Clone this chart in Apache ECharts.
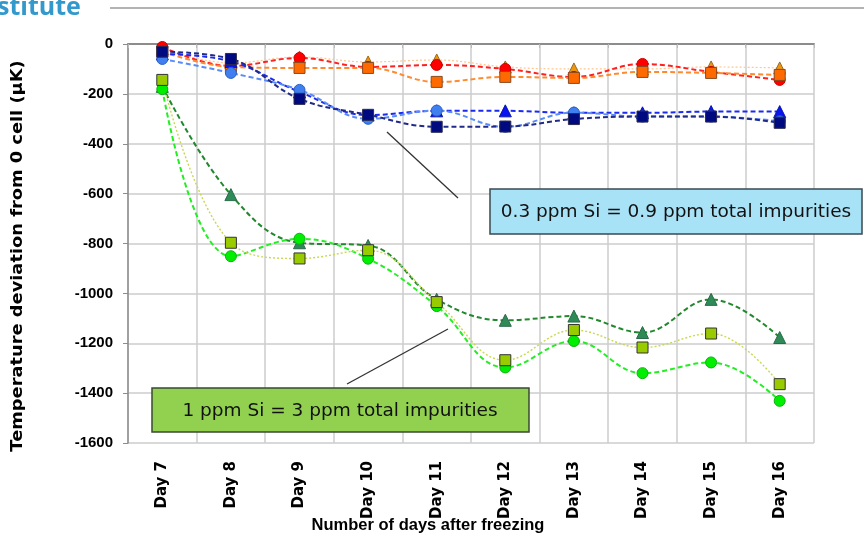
<!DOCTYPE html>
<html>
<head>
<meta charset="utf-8">
<script src="https://cdn.jsdelivr.net/npm/echarts@6/dist/echarts.min.js"></script>
<style>
  html, body { margin: 0; padding: 0; background: #ffffff; }
  #chart { width: 864px; height: 538px; }
</style>
</head>
<body>
<div id="chart"></div>
<script>
// Days after freezing
const days = ['Day 7', 'Day 8', 'Day 9', 'Day 10', 'Day 11', 'Day 12', 'Day 13', 'Day 14', 'Day 15', 'Day 16'];
const yTicks = { min: -1600, max: 0, step: 200 };

// 0.3 ppm Si cells (µK)
const redCircle      = [-12, -88, -56, -92, -84, -100, -132, -80, -112, -144];
const orangeTriangle = [-20, -76, -52, -72, -64, -92, -100, -100, -92, -96];
const orangeSquare   = [-30, -92, -96, -96, -152, -132, -136, -112, -116, -124];
const blueTriangle   = [-40, -70, -192, -285, -268, -268, -276, -276, -271, -271];
const blueCircle     = [-60, -116, -184, -300, -267, -332, -275, -291, -291, -310];
const navySquare     = [-31, -60, -220, -284, -332, -331, -301, -291, -291, -316];

// 1 ppm Si cells (µK)
const greenTriangle  = [-170, -604, -797, -808, -1024, -1108, -1091, -1157, -1024, -1177];
const greenCircle    = [-181, -851, -781, -861, -1051, -1297, -1191, -1320, -1277, -1431];
const oliveSquare    = [-144, -797, -860, -827, -1035, -1268, -1147, -1217, -1161, -1364];

// Callout texts
const noteLow  = '0.3 ppm Si = 0.9 ppm total impurities';
const noteHigh = '1 ppm Si = 3 ppm total impurities';

function line(name, data, opt) {
  return {
    name: name,
    type: 'line',
    data: data,
    smooth: 0.4,
    symbol: opt.symbol,
    symbolSize: opt.size || 11,
    itemStyle: { color: opt.fill, borderColor: opt.border, borderWidth: 1 },
    lineStyle: { color: opt.line, width: opt.width || 2, type: opt.dash || [5, 3] },
    z: opt.z || 2
  };
}

const chart = echarts.init(document.getElementById('chart'), null, { renderer: 'canvas' });

const overlayZ = 100;

chart.setOption({
  animation: false,
  backgroundColor: '#ffffff',
  grid: { left: 128, top: 44, right: 50, bottom: 95 },
  xAxis: [
    {
      type: 'category',
      data: days,
      position: 'bottom',
      axisLine: { show: false },
      axisTick: { show: true, length: 4, lineStyle: { color: '#bbbbbb' } },
      splitLine: { show: true, interval: 0, lineStyle: { color: '#cccccc', width: 1.5 } },
      axisLabel: {
        rotate: 90, interval: 0, margin: 18,
        fontFamily: 'DejaVu Sans, sans-serif', fontWeight: 'bold', fontSize: 15, color: '#000'
      }
    },
    {
      type: 'category',
      data: days,
      position: 'top',
      axisLine: { show: true, lineStyle: { color: '#8c8c8c', width: 2 } },
      axisTick: { show: false },
      axisLabel: { show: false },
      splitLine: { show: false }
    }
  ],
  yAxis: {
    type: 'value',
    min: yTicks.min,
    max: yTicks.max,
    interval: yTicks.step,
    axisLine: { show: true, lineStyle: { color: '#8c8c8c', width: 1.5 } },
    axisTick: { show: true, length: 5, lineStyle: { color: '#8c8c8c' } },
    splitLine: { show: true, lineStyle: { color: '#cccccc', width: 1.5 } },
    axisLabel: {
      margin: 15,
      formatter: function (v) { return String(v); },
      fontFamily: 'Liberation Sans, Arial, sans-serif', fontWeight: 'bold', fontSize: 15, color: '#000'
    }
  },
  series: [
    line('0.3 ppm – triangle (orange)', orangeTriangle, { symbol: 'triangle', fill: '#f0960a', border: '#9a6a20', line: '#ffc88c', width: 1.2, dash: [2, 2], size: 12 }),
    line('0.3 ppm – circle (red)', redCircle, { symbol: 'circle', fill: '#ff0000', border: '#cc0000', line: '#ff2020' }),
    line('0.3 ppm – square (orange)', orangeSquare, { symbol: 'rect', fill: '#ff6a00', border: '#8a4a20', line: '#ff8a30' }),
    line('0.3 ppm – triangle (blue)', blueTriangle, { symbol: 'triangle', fill: '#0a14f0', border: '#0a14b0', line: '#1a2af0', size: 12 }),
    line('0.3 ppm – circle (blue)', blueCircle, { symbol: 'circle', fill: '#3f7ff0', border: '#2a5fc0', line: '#5a8cf8' }),
    line('0.3 ppm – square (navy)', navySquare, { symbol: 'rect', fill: '#000a80', border: '#2a2a50', line: '#202a88' }),
    line('1 ppm – triangle (dark green)', greenTriangle, { symbol: 'triangle', fill: '#2e8b57', border: '#2a6a4a', line: '#22882e', size: 12, z: 3 }),
    line('1 ppm – circle (green)', greenCircle, { symbol: 'circle', fill: '#00ee00', border: '#10b010', line: '#22ee22', z: 3 }),
    line('1 ppm – square (olive)', oliveSquare, { symbol: 'rect', fill: '#99cc00', border: '#333333', line: '#c8d850', width: 1.4, dash: [2, 2], z: 3 })
  ],
  graphic: [
    // page header fragment
    {
      type: 'text', x: -3, y: -5, z: overlayZ,
      style: { text: 'stitute', fill: '#3399cc', font: 'bold 25px "Open Sans", "Liberation Sans", sans-serif' }
    },
    {
      type: 'line', z: overlayZ,
      shape: { x1: 110, y1: 8, x2: 864, y2: 8 },
      style: { stroke: '#9a9a9a', lineWidth: 1.5 }
    },
    // axis titles
    {
      type: 'text', x: 18, y: 256, rotation: Math.PI / 2, scaleX: 1.15, z: overlayZ,
      style: {
        text: 'Temperature deviation from 0 cell (µK)', fill: '#000',
        font: 'bold 15.5px "DejaVu Sans", sans-serif', align: 'center', verticalAlign: 'middle'
      }
    },
    {
      type: 'text', x: 428, y: 525, z: overlayZ,
      style: {
        text: 'Number of days after freezing', fill: '#000',
        font: 'bold 16.5px "Liberation Sans Narrow", "Liberation Sans", sans-serif', align: 'center', verticalAlign: 'middle'
      }
    },
    // pointer lines
    {
      type: 'line', z: overlayZ,
      shape: { x1: 387, y1: 132, x2: 458, y2: 198 },
      style: { stroke: '#333333', lineWidth: 1.3 }
    },
    {
      type: 'line', z: overlayZ,
      shape: { x1: 347, y1: 384, x2: 448, y2: 329 },
      style: { stroke: '#333333', lineWidth: 1.3 }
    },
    // 0.3 ppm callout
    {
      type: 'rect', z: overlayZ,
      shape: { x: 490, y: 189, width: 372, height: 45 },
      style: { fill: '#a8e2f6', stroke: '#3a4a50', lineWidth: 1.5 }
    },
    {
      type: 'text', x: 676, y: 212, z: overlayZ + 1,
      style: { text: noteLow, fill: '#111', align: 'center', verticalAlign: 'middle',
               font: '18.5px "DejaVu Sans", "Noto Sans", sans-serif' }
    },
    // 1 ppm callout
    {
      type: 'rect', z: overlayZ,
      shape: { x: 152, y: 388, width: 377, height: 44 },
      style: { fill: '#92d050', stroke: '#3a4a30', lineWidth: 1.5 }
    },
    {
      type: 'text', x: 340, y: 411, z: overlayZ + 1,
      style: { text: noteHigh, fill: '#111', align: 'center', verticalAlign: 'middle',
               font: '18.5px "DejaVu Sans", "Noto Sans", sans-serif' }
    }
  ]
});
</script>
</body>
</html>
